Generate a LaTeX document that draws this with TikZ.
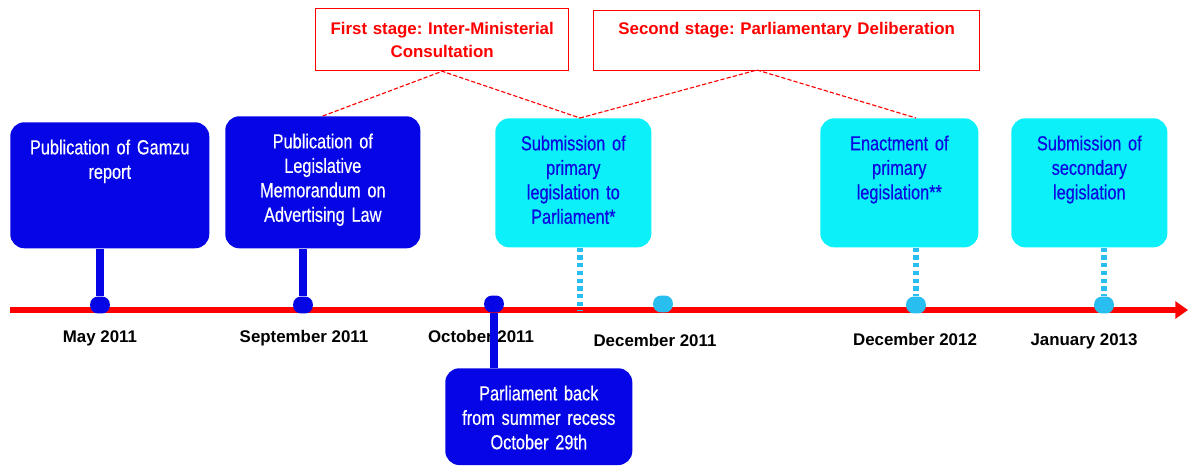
\documentclass[tikz,border=0pt]{standalone}
\usepackage{fontspec}
\setmainfont{Liberation Sans}
\newfontfamily\boxfont[FakeStretch=0.8, FakeBold=0.4]{Liberation Sans}
\usepackage{xcolor}
\usepackage{tikz}
\usetikzlibrary{arrows.meta}
\frenchspacing

\definecolor{evblue}{RGB}{5,5,230}
\definecolor{evcyan}{RGB}{12,240,250}
\definecolor{evtext}{RGB}{10,10,225}
\definecolor{tickcyan}{RGB}{40,190,240}

\tikzset{
  event/.style={rounded corners=10pt, inner xsep=2pt, inner ysep=0pt, align=center,
    anchor=north west, text height=22.8pt, font=\boxfont\fontsize{14.5}{17.4}\selectfont},
  major/.style={event, fill=evblue, text=white},
  minor/.style={event, fill=evcyan, text=evtext},
  stagebox/.style={draw=red, line width=0.9pt, text=red, inner xsep=2pt, inner ysep=0pt,
    align=center, anchor=north west, font=\bfseries\fontsize{12}{16.4}\selectfont},
  stageline/.style={red, line width=0.8pt, dash pattern=on 3pt off 1.5pt},
  date/.style={anchor=base, font=\bfseries\fontsize{12}{14}\selectfont},
  bdot/.style={fill=evblue, minimum width=14pt, minimum height=12pt, inner sep=0pt, rounded corners=5.5pt},
  cdot/.style={bdot, fill=tickcyan},
  bstem/.style={evblue, line width=5pt},
  cstem/.style={tickcyan, line width=3.6pt, dash pattern=on 3pt off 2.5pt},
}

\begin{document}
\begin{tikzpicture}[x=0.025cm, y=-0.025cm]
  \useasboundingbox (0,0) rectangle (1188,466);

  % stages
  \node[stagebox, text width=176pt, text height=18.5pt, text depth=25.6pt] (stage1) at (315,8)
    {First stage: Inter-Ministerial\\Consultation};
  \node[stagebox, text width=270.6pt, text height=17pt, text depth=25.7pt] (stage2) at (593,10)
    {Second stage: Parliamentary Deliberation};
  \coordinate (j2) at (757,70);

  % events
  \node[major, text width=137.5pt, text depth=66.8pt] (gamzu) at (10,122)
    {Publication of Gamzu\\report};
  \node[major, text width=134.7pt, text depth=71.1pt] (legis) at (225,116)
    {Publication of\\Legislative\\Memorandum on\\Advertising Law};
  \node[minor, text width=107pt, text depth=69pt] (submit) at (495,118)
    {Submission of\\primary\\legislation to\\Parliament*};
  \node[minor, text width=108.4pt, text depth=69pt] (enact) at (820,118)
    {Enactment of\\primary\\legislation**};
  \node[minor, text width=107pt, text depth=69pt] (second) at (1011,118)
    {Submission of\\secondary\\legislation};
  \node[major, text width=129pt, text depth=46pt] (recess) at (445,368)
    {Parliament back\\from summer recess\\October 29th};

  % timeline
  \coordinate (tstart) at (10,310);
  \coordinate (tend) at (1188,310);
  \draw[red, line width=4.3pt, -{Triangle[length=9pt, width=12pt]}] (tstart) -- (tend);

  % dates
  \node[date] (may) at (100,342) {May 2011};
  \node[date] (sep) at (304,342) {September 2011};
  \node[date] (oct) at (481,342) {October 2011};
  \node[date] (dec1) at (655,346) {December 2011};
  \node[date] (dec2) at (915,345) {December 2012};
  \node[date] (jan) at (1084,345) {January 2013};

  % ticks
  \coordinate (m4) at (580,310);
  \node[bdot] (m1) at (100,305) {};
  \node[bdot] (m2) at (303,305) {};
  \node[bdot] (m3) at (494,304) {};
  \node[cdot] (m5) at (663,304) {};
  \node[cdot] (m6) at (916,305) {};
  \node[cdot] (m7) at (1104,305) {};

  \draw[bstem] (gamzu.south -| m1) -- (m1);
  \draw[bstem] (legis.south -| m2) -- (m2);
  \draw[bstem] (m3) -- (recess.north -| m3);
  \draw[cstem] (submit.south -| m4) -- (m4);
  \draw[cstem] (enact.south -| m6) -- (m6.north);
  \draw[cstem] (second.south -| m7) -- (m7.north);

  \draw[stageline] (legis.north) -- (stage1.south) -- (submit.north -| m4);
  \draw[stageline] (submit.north -| m4) -- (j2) -- (enact.north -| m6);
\end{tikzpicture}
\end{document}
